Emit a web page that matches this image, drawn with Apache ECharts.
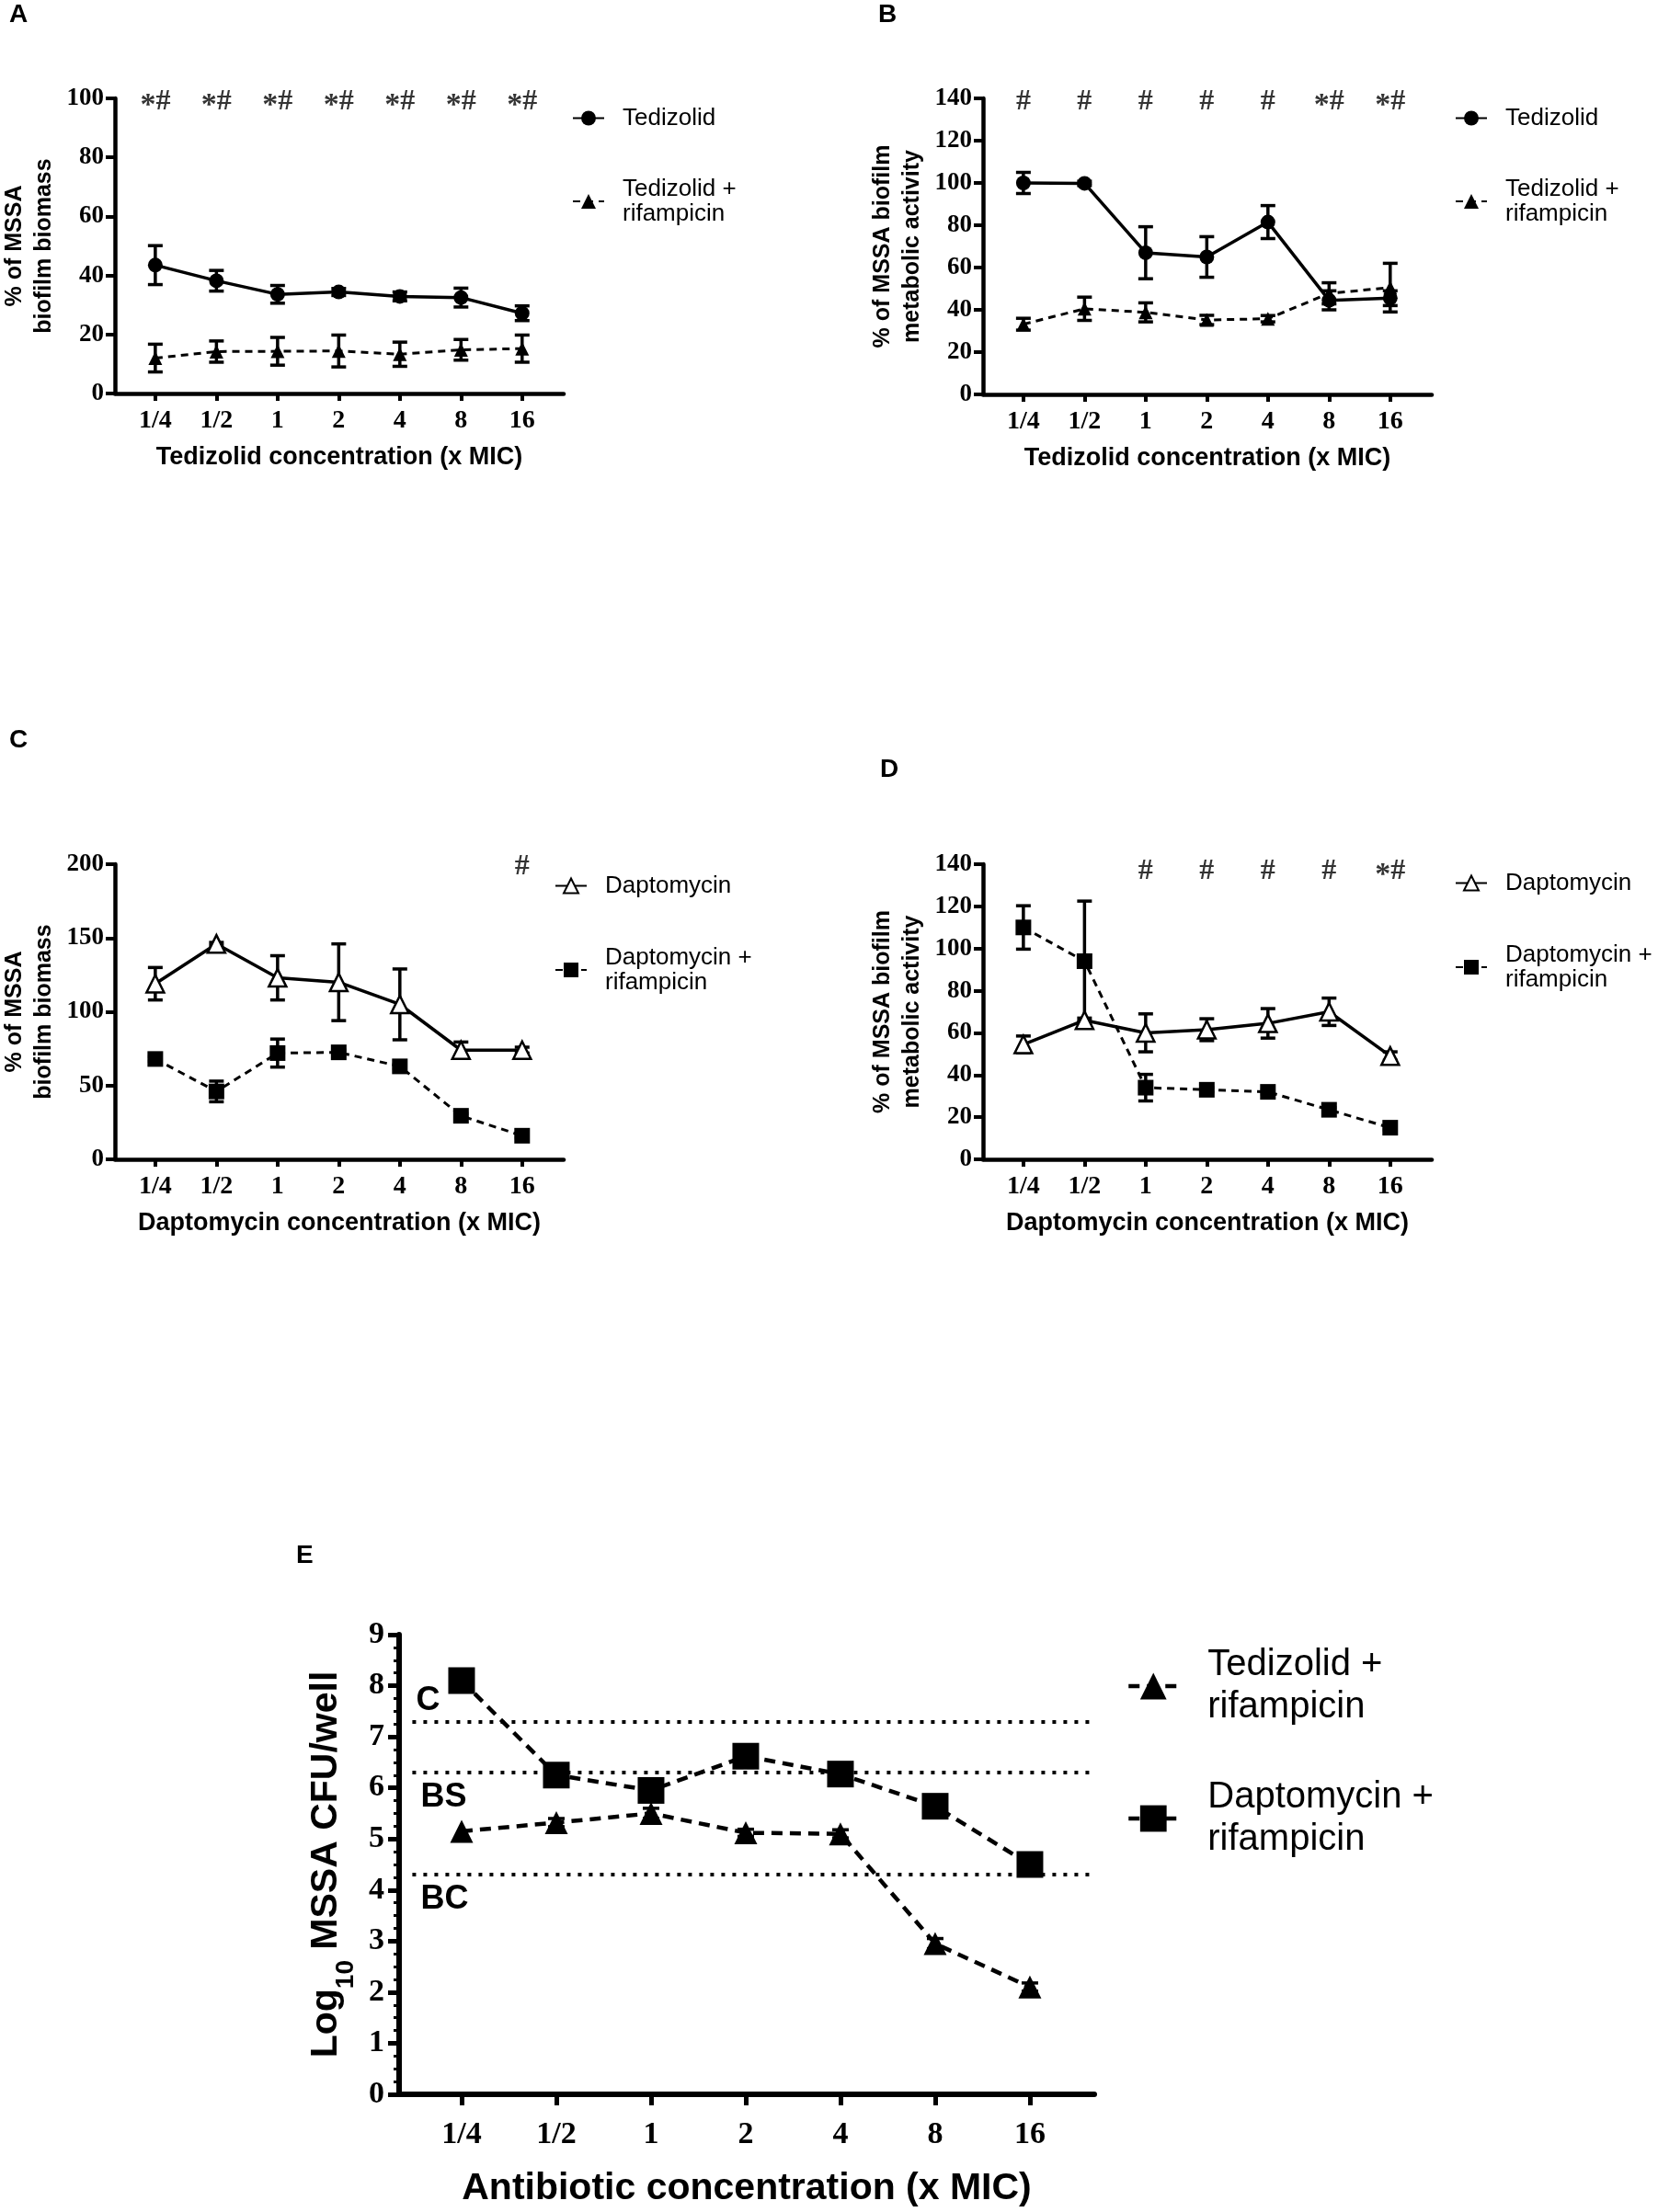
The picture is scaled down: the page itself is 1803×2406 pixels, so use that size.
<!DOCTYPE html>
<html>
<head>
<meta charset="utf-8">
<script src="https://cdn.jsdelivr.net/npm/echarts@6/dist/echarts.min.js"></script>
<style>
  html, body { margin: 0; padding: 0; background: #fff; }
  #chart { width: 1803px; height: 2406px; }
</style>
</head>
<body>
<div id="chart"></div>
<script>
// concentration categories (x MIC), shared by all panels
const cats = ['1/4', '1/2', '1', '2', '4', '8', '16'];
const idx = [0, 1, 2, 3, 4, 5, 6];

// A: biofilm biomass, tedizolid
const tedBiomass = [43.5, 38.2, 33.6, 34.4, 32.9, 32.5, 27.2];
const tedBiomassSd = [6.6, 3.5, 3.0, 1.2, 1.5, 3.2, 2.5];
const tedRifBiomass = [12.0, 14.2, 14.3, 14.4, 13.3, 14.8, 15.2];
const tedRifBiomassSd = [4.7, 3.6, 4.7, 5.4, 4.1, 3.5, 4.6];
const annotA = ['*#', '*#', '*#', '*#', '*#', '*#', '*#'];

// B: metabolic activity, tedizolid
const tedMetab = [100, 99.8, 67, 65, 81.5, 44.5, 45.5];
const tedMetabSd = [5, 1, 12.3, 9.6, 7.8, 4.5, 3.5];
const tedRifMetab = [33.2, 40.5, 38.8, 35.2, 35.8, 47.8, 50.5];
const tedRifMetabSd = [2.8, 5.5, 4.5, 2.2, 1.5, 5, 11.5];
const annotB = ['#', '#', '#', '#', '#', '*#', '*#'];

// C: biofilm biomass, daptomycin
const dapBiomass = [119, 146, 123, 120, 105, 74, 74];
const dapBiomassSd = [11, 1, 15, 26, 24, 5.5, 2];
const dapRifBiomass = [68, 46, 72, 72.5, 63, 29.5, 16];
const dapRifBiomassSd = [1.5, 7, 9.5, 1.5, 1.5, 1.5, 1.5];
const annotC = ['', '', '', '', '', '', '#'];

// D: metabolic activity, daptomycin
const dapMetab = [54.5, 66, 60, 61.5, 64.5, 70, 49];
const dapMetabSd = [4, 1, 9, 5.2, 7, 6.5, 2];
const dapRifMetab = [110, 94, 34, 33, 32, 23.5, 15];
const dapRifMetabSd = [10.3, 28.5, 6.3, 1, 1, 1, 1];
const annotD = ['', '', '#', '#', '#', '#', '*#'];

// E: log10 CFU/well
const tedRifLog = [5.15, 5.32, 5.5, 5.12, 5.1, 2.95, 2.1];
const tedRifLogSd = [0, 0.08, 0.1, 0.07, 0.08, 0.1, 0.08];
const dapRifLog = [8.1, 6.25, 5.95, 6.62, 6.27, 5.64, 4.5];
const refLevels = [7.3, 6.3, 4.3];
const refNames = ['C', 'BS', 'BC'];

const SANS = 'Liberation Sans, Arial, sans-serif';
const SERIF = 'Liberation Serif, Times New Roman, serif';
const TED = 'Tedizolid';
const TED_RIF = 'Tedizolid +\nrifampicin';
const DAP = 'Daptomycin';
const DAP_RIF = 'Daptomycin +\nrifampicin';

const grids = [
  { left: 125, top: 107, width: 488, height: 321 },
  { left: 1069, top: 107, width: 488, height: 322 },
  { left: 125, top: 940, width: 488, height: 321 },
  { left: 1069, top: 940, width: 488, height: 321 },
  { left: 434, top: 1778, width: 756, height: 500 }
].map(g => Object.assign({ outerBoundsMode: 'none', containLabel: false }, g));

function xAx(gi, title, big) {
  return {
    type: 'value', gridIndex: gi, min: -0.66, max: 6.68,
    name: title, nameLocation: 'middle', nameGap: big ? 80 : 55,
    nameTextStyle: { fontFamily: SANS, fontWeight: 'bold', fontSize: big ? 41 : 27, lineHeight: big ? 46 : 30, color: '#000' },
    axisLine: { show: true, onZero: false, lineStyle: { color: '#000', width: big ? 6 : 4.5 } },
    axisTick: { show: true, customValues: idx, length: big ? 12 : 8, lineStyle: { color: '#000', width: big ? 5 : 4 } },
    axisLabel: { show: true, customValues: idx, formatter: v => cats[Math.round(v)], margin: big ? 27 : 16,
      fontFamily: SERIF, fontWeight: 'bold', fontSize: big ? 34 : 28, color: '#000' },
    splitLine: { show: false }
  };
}

function yAx(gi, max, interval, name, big) {
  const ax = {
    type: 'value', gridIndex: gi, min: 0, max: max, interval: interval,
    name: name, nameLocation: 'middle', nameRotate: 90, nameGap: big ? 44 : 61,
    nameTextStyle: { fontFamily: SANS, fontWeight: 'bold', fontSize: big ? 41 : 25, lineHeight: big ? 56 : 32, color: '#000' },
    axisLine: { show: true, onZero: false, lineStyle: { color: '#000', width: big ? 6 : 4.5 } },
    axisTick: { show: true, length: big ? 12 : 10, lineStyle: { color: '#000', width: big ? 5 : 4 } },
    axisLabel: { margin: big ? 16 : 12, fontFamily: SERIF, fontWeight: 'bold', fontSize: big ? 34 : 27, color: '#000' },
    splitLine: { show: false }
  };
  if (big) {
    ax.minorTick = { show: true, splitNumber: 4, length: 6, lineStyle: { color: '#000', width: 3 } };
    ax.nameTextStyle.rich = {
      m: { fontFamily: SANS, fontWeight: 'bold', fontSize: 41, lineHeight: 56, verticalAlign: 'top' },
      sub: { fontFamily: SANS, fontWeight: 'bold', fontSize: 28, lineHeight: 56, verticalAlign: 'bottom' }
    };
  }
  return ax;
}

function lineS(gi, name, vals, o) {
  return {
    type: 'line', name: name, xAxisIndex: gi, yAxisIndex: gi, z: 3,
    data: vals.map((v, i) => [i, v]),
    symbol: o.symbol, symbolSize: o.size,
    itemStyle: o.open ? { color: '#fff', borderColor: '#000', borderWidth: 2.5 } : { color: '#000' },
    lineStyle: { color: '#000', width: o.width, type: o.dash || 'solid' },
    emphasis: { disabled: true }
  };
}

function errS(gi, vals, sds, cap, lw) {
  return {
    type: 'custom', xAxisIndex: gi, yAxisIndex: gi, z: 2, silent: true,
    encode: { x: 0, y: [1, 2] },
    data: vals.map((v, i) => [i, v - sds[i], v + sds[i]]).filter(d => d[2] > d[1]),
    renderItem: function (params, api) {
      const x = api.value(0);
      const lo = api.coord([x, api.value(1)]);
      const hi = api.coord([x, api.value(2)]);
      const h = cap / 2;
      const st = { stroke: '#000', lineWidth: lw };
      return {
        type: 'group', children: [
          { type: 'line', shape: { x1: lo[0], y1: lo[1], x2: hi[0], y2: hi[1] }, style: st },
          { type: 'line', shape: { x1: hi[0] - h, y1: hi[1], x2: hi[0] + h, y2: hi[1] }, style: st },
          { type: 'line', shape: { x1: lo[0] - h, y1: lo[1], x2: lo[0] + h, y2: lo[1] }, style: st }
        ]
      };
    }
  };
}

// significance marks; the asterisk sits a little lower than the hash
function annotS(gi, marks, yTop, off) {
  return {
    type: 'scatter', xAxisIndex: gi, yAxisIndex: gi, z: 4, silent: true,
    symbolSize: 0, itemStyle: { color: 'rgba(0,0,0,0)' },
    data: marks.map((t, i) => [i, yTop]).filter((d, i) => marks[i] !== ''),
    label: {
      show: true, position: 'inside', offset: [0, off],
      formatter: p => marks[p.value[0]].replace('*', '{s|*}').replace('#', '{h|#}'),
      rich: {
        s: { fontFamily: SERIF, fontWeight: 'bold', fontSize: 34, lineHeight: 30, verticalAlign: 'bottom', color: '#000' },
        h: { fontFamily: SERIF, fontWeight: 'bold', fontSize: 32, lineHeight: 42, verticalAlign: 'middle', color: '#000' }
      }
    }
  };
}

function legendFor(left, top, gap, names, big, extra) {
  return {
    orient: 'vertical', left: left, top: top, padding: 0, selectedMode: false,
    itemWidth: big ? 54 : 34, itemHeight: big ? 36 : 20, itemGap: gap,
    data: names.map((n, i) => Object.assign({ name: n }, extra ? extra[i] : {})),
    textStyle: { fontFamily: SANS, fontSize: big ? 40 : 26, lineHeight: big ? 46 : 27, color: '#000',
      padding: [0, 0, 0, big ? 27 : 15] }
  };
}

const solidCircle = { symbol: 'circle', size: 16, width: 3.5 };
const dashTri = { symbol: 'triangle', size: 15, width: 3, dash: [8, 6] };
const openTri = { symbol: 'triangle', size: 19, width: 3.5, open: true };
const dashRect = { symbol: 'rect', size: 17, width: 3, dash: [8, 6] };

const series = [
  // A
  errS(0, tedBiomass, tedBiomassSd, 16, 3.5),
  errS(0, tedRifBiomass, tedRifBiomassSd, 16, 3.5),
  lineS(0, TED, tedBiomass, solidCircle),
  lineS(0, TED_RIF, tedRifBiomass, dashTri),
  annotS(0, annotA, 100, 4),
  // B
  errS(1, tedMetab, tedMetabSd, 16, 3.5),
  errS(1, tedRifMetab, tedRifMetabSd, 16, 3.5),
  lineS(1, TED, tedMetab, solidCircle),
  lineS(1, TED_RIF, tedRifMetab, dashTri),
  annotS(1, annotB, 140, 4),
  // C
  errS(2, dapBiomass, dapBiomassSd, 16, 3.5),
  errS(2, dapRifBiomass, dapRifBiomassSd, 16, 3.5),
  lineS(2, DAP, dapBiomass, openTri),
  lineS(2, DAP_RIF, dapRifBiomass, dashRect),
  annotS(2, annotC, 200, 3),
  // D
  errS(3, dapMetab, dapMetabSd, 16, 3.5),
  errS(3, dapRifMetab, dapRifMetabSd, 16, 3.5),
  lineS(3, DAP, dapMetab, openTri),
  lineS(3, DAP_RIF, dapRifMetab, dashRect),
  annotS(3, annotD, 140, 8),
  // E
  errS(4, tedRifLog, tedRifLogSd, 18, 3.5),
  lineS(4, TED_RIF, tedRifLog, { symbol: 'triangle', size: 25, width: 4.5, dash: [12, 8] }),
  lineS(4, DAP_RIF, dapRifLog, { symbol: 'rect', size: 29, width: 4.5, dash: [12, 8] }),
  {
    type: 'line', xAxisIndex: 4, yAxisIndex: 4, data: [], silent: true,
    markLine: {
      symbol: ['none', 'none'], silent: true, animation: false,
      lineStyle: { color: '#000', width: 4, type: [4, 8] },
      label: { formatter: '{b}', fontFamily: SANS, fontWeight: 'bold', fontSize: 36, color: '#000', distance: 6 },
      data: refLevels.map((v, i) => [
        { coord: [-0.52, v], name: refNames[i],
          label: { position: i === 0 ? 'insideStartTop' : 'insideStartBottom', distance: i === 0 ? 4 : 9 } },
        { coord: [6.68, v] }
      ])
    }
  }
];

const option = {
  animation: false,
  backgroundColor: '#fff',
  grid: grids,
  xAxis: [
    xAx(0, 'Tedizolid concentration (x MIC)'),
    xAx(1, 'Tedizolid concentration (x MIC)'),
    xAx(2, 'Daptomycin concentration (x MIC)'),
    xAx(3, 'Daptomycin concentration (x MIC)'),
    xAx(4, 'Antibiotic concentration (x MIC)', true)
  ],
  yAxis: [
    yAx(0, 100, 20, '% of MSSA\nbiofilm biomass'),
    yAx(1, 140, 20, '% of MSSA biofilm\nmetabolic activity'),
    yAx(2, 200, 50, '% of MSSA\nbiofilm biomass'),
    yAx(3, 140, 20, '% of MSSA biofilm\nmetabolic activity'),
    yAx(4, 9, 1, '{m|Log}{sub|10}{m| MSSA CFU/well}', true)
  ],
  legend: [
    legendFor(622, 115, 50, [TED, TED_RIF]),
    legendFor(1582, 115, 50, [TED, TED_RIF]),
    legendFor(603, 950, 51, [DAP, DAP_RIF]),
    legendFor(1582, 947, 51, [DAP, DAP_RIF]),
    legendFor(1225, 1788, 52, [TED_RIF, DAP_RIF], true,
      [{ lineStyle: { width: 4.5, type: [12, 8] } }, { lineStyle: { width: 4.5, type: [12, 8] } }])
  ],
  graphic: [
    ['A', 10, 17], ['B', 955, 17], ['C', 10, 806], ['D', 957, 838], ['E', 322, 1693]
  ].map(p => ({
    type: 'text', left: p[1], top: p[2] - 15,
    style: { text: p[0], font: 'bold 28px ' + SANS, fill: '#000' }
  })),
  series: series
};

const chart = echarts.init(document.getElementById('chart'), null, { renderer: 'canvas' });
chart.setOption(option);
</script>
</body>
</html>
